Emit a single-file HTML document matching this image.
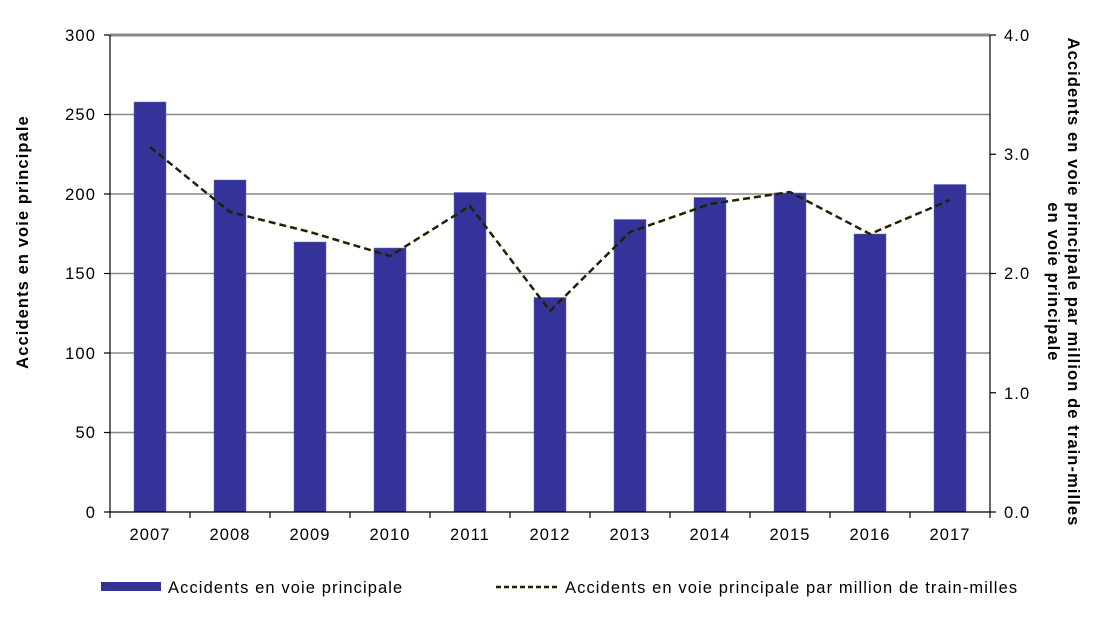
<!DOCTYPE html><html><head><style>body{margin:0;background:#fff}svg{display:block}text{font-family:"Liberation Sans",sans-serif;fill:#000;letter-spacing:1.1px}</style></head><body>
<svg width="1100" height="639" xmlns="http://www.w3.org/2000/svg">
<g stroke="#888" stroke-width="1.5">
<line x1="110" x2="990" y1="432.5" y2="432.5"/><line x1="110" x2="990" y1="353" y2="353"/><line x1="110" x2="990" y1="273.5" y2="273.5"/><line x1="110" x2="990" y1="194" y2="194"/><line x1="110" x2="990" y1="114.5" y2="114.5"/></g>
<line x1="110" x2="990" y1="35" y2="35" stroke="#888" stroke-width="3"/>
<g fill="#333399" stroke="#6666bb" stroke-width="0.5">
<rect x="134" y="102" width="32" height="410"/>
<rect x="214" y="180" width="32" height="332"/>
<rect x="294" y="242" width="32" height="270"/>
<rect x="374" y="248" width="32" height="264"/>
<rect x="454" y="192.5" width="32" height="319.5"/>
<rect x="534" y="297.5" width="32" height="214.5"/>
<rect x="614" y="219.5" width="32" height="292.5"/>
<rect x="694" y="197.5" width="32" height="314.5"/>
<rect x="774" y="193" width="32" height="319"/>
<rect x="854" y="234" width="32" height="278"/>
<rect x="934" y="184.5" width="32" height="327.5"/>
</g>
<polyline fill="none" stroke="#222200" stroke-width="2.5" stroke-dasharray="7,4" points="150,147 230,212 310,232 390,256 470,206 550,311 630,232 710,204 790,192 870,234 950,200"/>
<g stroke="#000" stroke-width="1.2">
<line x1="110" x2="110" y1="35" y2="512"/><line x1="990" x2="990" y1="35" y2="512"/><line x1="110" x2="990" y1="512" y2="512"/>
<line x1="104" x2="110" y1="35" y2="35"/><line x1="104" x2="110" y1="114.5" y2="114.5"/><line x1="104" x2="110" y1="194" y2="194"/><line x1="104" x2="110" y1="273.5" y2="273.5"/><line x1="104" x2="110" y1="353" y2="353"/><line x1="104" x2="110" y1="432.5" y2="432.5"/><line x1="104" x2="110" y1="512" y2="512"/>
<line x1="990" x2="996" y1="35" y2="35"/><line x1="990" x2="996" y1="154.25" y2="154.25"/><line x1="990" x2="996" y1="273.5" y2="273.5"/><line x1="990" x2="996" y1="392.75" y2="392.75"/><line x1="990" x2="996" y1="512" y2="512"/>
<line x1="110" x2="110" y1="512" y2="518"/><line x1="190" x2="190" y1="512" y2="518"/><line x1="270" x2="270" y1="512" y2="518"/><line x1="350" x2="350" y1="512" y2="518"/><line x1="430" x2="430" y1="512" y2="518"/><line x1="510" x2="510" y1="512" y2="518"/><line x1="590" x2="590" y1="512" y2="518"/><line x1="670" x2="670" y1="512" y2="518"/><line x1="750" x2="750" y1="512" y2="518"/><line x1="830" x2="830" y1="512" y2="518"/><line x1="910" x2="910" y1="512" y2="518"/><line x1="990" x2="990" y1="512" y2="518"/>
</g>
<g font-size="16.5" text-anchor="end">
<text x="96" y="41">300</text><text x="96" y="120">250</text><text x="96" y="200">200</text><text x="96" y="279">150</text><text x="96" y="359">100</text><text x="96" y="438">50</text><text x="96" y="518">0</text></g>
<g font-size="16.5">
<text x="1004" y="41">4.0</text><text x="1004" y="160">3.0</text><text x="1004" y="279">2.0</text><text x="1004" y="399">1.0</text><text x="1004" y="518">0.0</text></g>
<g font-size="16.5" text-anchor="middle">
<text x="150" y="540">2007</text><text x="230" y="540">2008</text><text x="310" y="540">2009</text><text x="390" y="540">2010</text><text x="470" y="540">2011</text><text x="550" y="540">2012</text><text x="630" y="540">2013</text><text x="710" y="540">2014</text><text x="790" y="540">2015</text><text x="870" y="540">2016</text><text x="950" y="540">2017</text></g>
<text font-size="16.5" font-weight="bold" text-anchor="middle" transform="translate(28,242) rotate(-90)">Accidents en voie principale</text>
<text font-size="16.5" font-weight="bold" text-anchor="middle" transform="translate(1068,282) rotate(90)">Accidents en voie principale par million de train-milles</text>
<text font-size="16.5" font-weight="bold" text-anchor="middle" transform="translate(1048,282) rotate(90)">en voie principale</text>
<rect x="101" y="582" width="60" height="9" fill="#333399"/>
<text x="168" y="593" font-size="16.5">Accidents en voie principale</text>
<line x1="496" x2="558" y1="587" y2="587" stroke="#222200" stroke-width="2.5" stroke-dasharray="5,3"/>
<text x="565" y="593" font-size="16.5">Accidents en voie principale par million de train-milles</text>
</svg></body></html>
